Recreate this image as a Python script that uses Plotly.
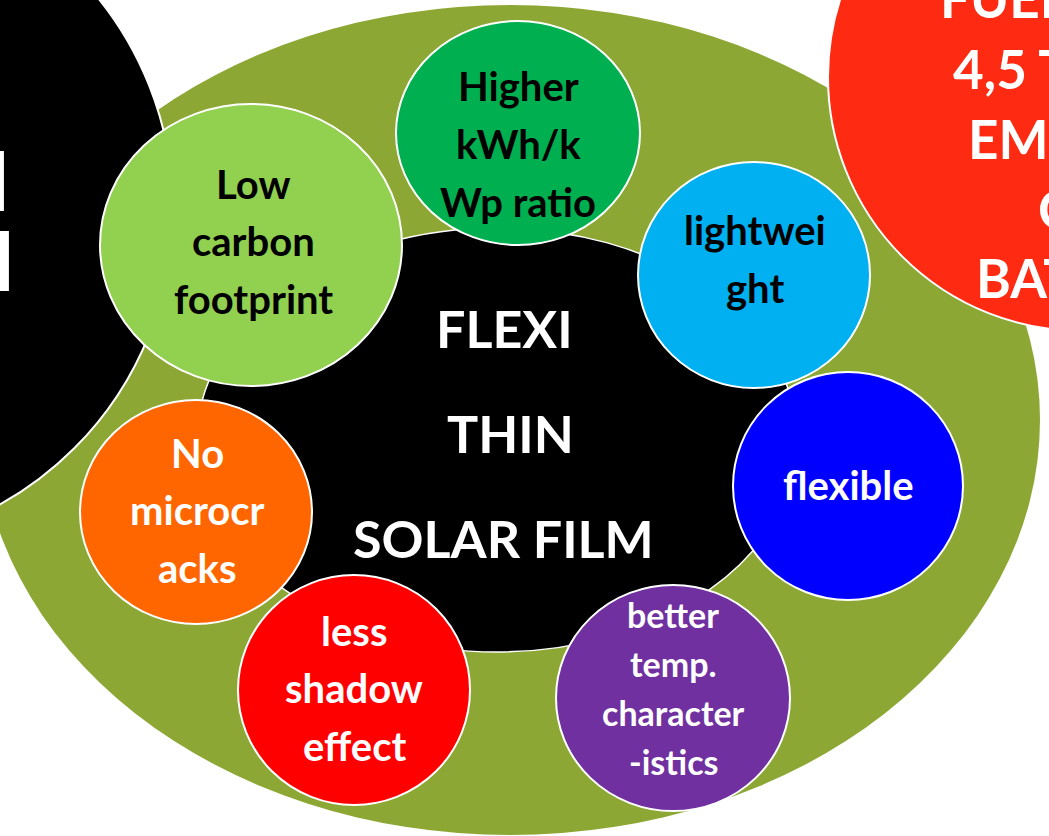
import plotly.graph_objects as go

W, H = 1049, 836

# ---- content ----
center_lines = ["FLEXI", "THIN", "SOLAR FILM"]
bubble_labels = [
    ["Low", "carbon", "footprint"],
    ["Higher", "kWh/k", "Wp ratio"],
    ["lightwei", "ght"],
    ["flexible"],
    ["better", "temp.", "character", "-istics"],
    ["less", "shadow", "effect"],
    ["No", "microcr", "acks"],
]
side_red_lines = ["FUEL CELL", "4,5 TONS", "EMISSION", "CO2", "BATTERY"]
side_black_lines = ["I", "I", "I"]

# ---- layout / style (pixel coordinates) ----
bubble_cx = [251, 518, 754, 848, 673, 354, 196]
bubble_cy = [245, 133, 275, 486, 698, 690, 512]
bubble_rx = [151, 122, 116, 115, 117, 116, 116]
bubble_ry = [141, 112, 113, 114, 113, 115, 112]
bubble_colors = ["#92D050", "#00B050", "#00B0F0", "#0000FF", "#7030A0", "#FF0000", "#FF6600"]
text_colors = ["black", "black", "black", "white", "white", "white", "white"]
text_mid_y = [241, 144, 259, 485, 688, 688, 510]
text_mid_x = [253, 518, 755, 848, 673, 354, 197]
line_gap = [57.5, 58, 58, 58, 49.3, 57.5, 57.5]
font_size = [40, 40, 40, 40, 34, 40, 40]

FONT = "Lato"

fig = go.Figure()
shapes = []

def ell(cx, cy, rx, ry, fill, lw=0, lc="white"):
    return dict(type="circle", xref="x", yref="y", x0=cx - rx, x1=cx + rx,
                y0=cy - ry, y1=cy + ry, fillcolor=fill,
                line=dict(color=lc, width=lw), layer="above")

# olive background ellipse
shapes.append(ell(510, 420, 530, 415, "#8CA733", 0))
# left black circle
shapes.append(ell(-164, 210, 337, 337, "#000000", 2))
# top-right red circle
shapes.append(ell(1082, 77, 254, 254, "#FF2A12", 2))
# central black ellipse
shapes.append(ell(497, 440, 300, 212, "#000000", 1.5))
# bubbles
for i in range(len(bubble_labels)):
    shapes.append(ell(bubble_cx[i], bubble_cy[i], bubble_rx[i], bubble_ry[i], bubble_colors[i], 2))

annotations = []

def txt(x, y, s, size, color, xanchor="center", yshift=0):
    annotations.append(dict(x=x, y=y, xref="x", yref="y", text="<b>" + s + "</b>",
                            showarrow=False, xanchor=xanchor, yanchor="middle",
                            yshift=yshift,
                            font=dict(family=FONT, size=size, color=color)))

# center text
center_y = [328, 433, 538]
center_x = [504, 510, 503]
for s, x, y in zip(center_lines, center_x, center_y):
    txt(x, y, s, 52, "white")

# bubble text
for i, lines in enumerate(bubble_labels):
    n = len(lines)
    for j, s in enumerate(lines):
        y = text_mid_y[i] + (j - (n - 1) / 2) * line_gap[i]
        txt(text_mid_x[i], y, s, font_size[i], text_colors[i])

# partially visible texts
red_x = [938, 951, 966, 1036, 974]
red_y = [0, 68, 138, 208, 277]
red_shift = [3, 0, 0, 0, 0]
for s, x, y, sh in zip(side_red_lines, red_x, red_y, red_shift):
    txt(x, y, s, 53, "white", xanchor="left", yshift=sh)

black_x = [9, 13, 18]
black_y = [97, 179, 259]
for s, x, y in zip(side_black_lines, black_x, black_y):
    txt(x, y, s, 83, "white", xanchor="right")

fig.update_layout(
    width=W, height=H,
    margin=dict(l=0, r=0, t=0, b=0),
    paper_bgcolor="white", plot_bgcolor="white",
    shapes=shapes, annotations=annotations,
    showlegend=False,
    xaxis=dict(range=[0, W], visible=False, fixedrange=True),
    yaxis=dict(range=[H, 0], visible=False, fixedrange=True),
)

fig.write_html("out.html", config={"displayModeBar": False},
               post_script="document.body.style.margin='0';document.body.style.overflow='hidden';")
